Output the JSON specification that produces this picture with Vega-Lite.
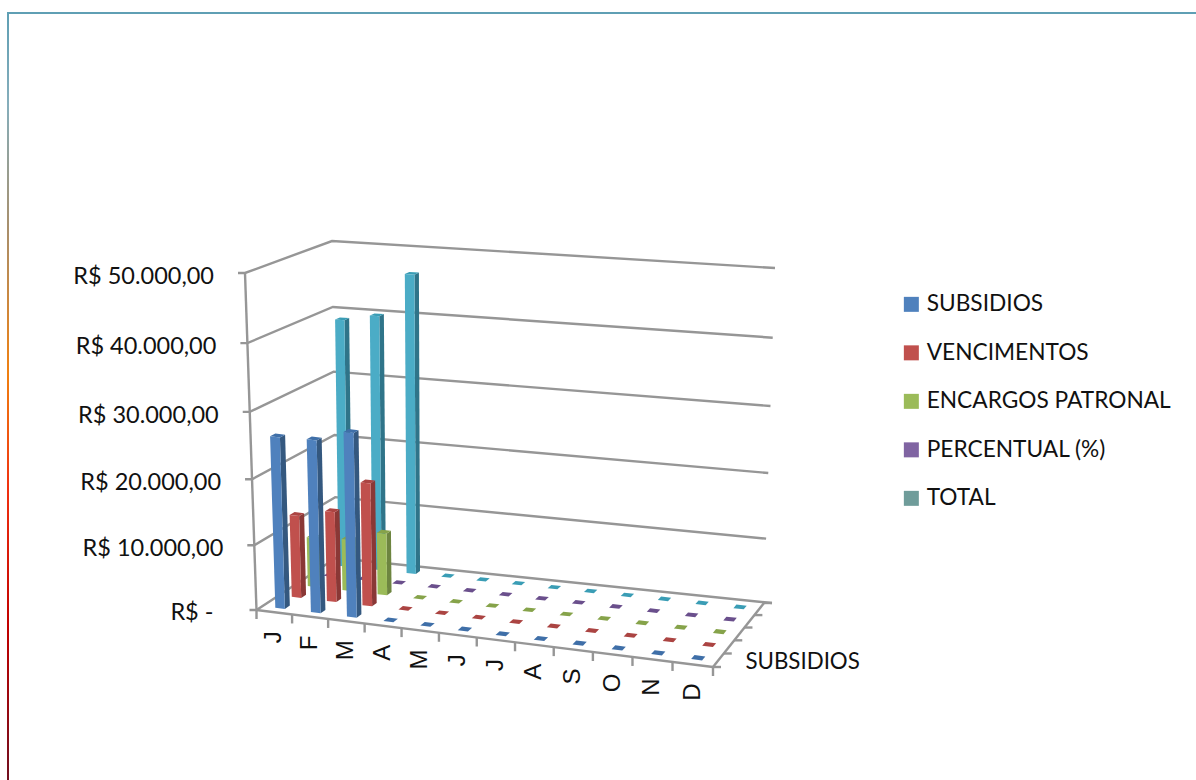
{"$schema":"https://vega.github.io/schema/vega-lite/v6.json","width":1190,"height":769,"padding":{"left":8,"top":13,"right":0,"bottom":0},"autosize":{"type":"none"},"background":"white","view":{"stroke":{"gradient":"linear","x1":0,"y1":0,"x2":0,"y2":1,"stops":[{"offset":0,"color":"#5f9fb4"},{"offset":0.12,"color":"#86aebb"},{"offset":0.28,"color":"#a88f6c"},{"offset":0.47,"color":"#f08010"},{"offset":0.62,"color":"#f03010"},{"offset":0.8,"color":"#c00000"},{"offset":1,"color":"#701020"}]},"strokeWidth":2,"fill":null},"data":{"values":[
{"kind":"grid","value":0,"label":"R$ -"},{"kind":"grid","value":10000,"label":"R$ 10.000,00"},{"kind":"grid","value":20000,"label":"R$ 20.000,00"},{"kind":"grid","value":30000,"label":"R$ 30.000,00"},{"kind":"grid","value":40000,"label":"R$ 40.000,00"},{"kind":"grid","value":50000,"label":"R$ 50.000,00"},
{"kind":"axis","name":"front"},{"kind":"axis","name":"right"},{"kind":"axis","name":"wall"},
{"kind":"mtick","i":0},{"kind":"mtick","i":1},{"kind":"mtick","i":2},{"kind":"mtick","i":3},{"kind":"mtick","i":4},{"kind":"mtick","i":5},{"kind":"mtick","i":6},{"kind":"mtick","i":7},{"kind":"mtick","i":8},{"kind":"mtick","i":9},{"kind":"mtick","i":10},{"kind":"mtick","i":11},{"kind":"mtick","i":12},
{"kind":"dtick","i":0},{"kind":"dtick","i":1},{"kind":"dtick","i":2},{"kind":"dtick","i":3},{"kind":"dtick","i":4},{"kind":"dtick","i":5},
{"kind":"mlabel","i":0,"label":"J"},{"kind":"mlabel","i":1,"label":"F"},{"kind":"mlabel","i":2,"label":"M"},{"kind":"mlabel","i":3,"label":"A"},{"kind":"mlabel","i":4,"label":"M"},{"kind":"mlabel","i":5,"label":"J"},{"kind":"mlabel","i":6,"label":"J"},{"kind":"mlabel","i":7,"label":"A"},{"kind":"mlabel","i":8,"label":"S"},{"kind":"mlabel","i":9,"label":"O"},{"kind":"mlabel","i":10,"label":"N"},{"kind":"mlabel","i":11,"label":"D"},
{"kind":"dlabel","label":"SUBSIDIOS"},
{"kind":"bar","series":"TOTAL","si":4,"mi":0,"value":38900},{"kind":"bar","series":"TOTAL","si":4,"mi":1,"value":39900},{"kind":"bar","series":"TOTAL","si":4,"mi":2,"value":46500},{"kind":"bar","series":"TOTAL","si":4,"mi":3,"value":0},{"kind":"bar","series":"TOTAL","si":4,"mi":4,"value":0},{"kind":"bar","series":"TOTAL","si":4,"mi":5,"value":0},{"kind":"bar","series":"TOTAL","si":4,"mi":6,"value":0},{"kind":"bar","series":"TOTAL","si":4,"mi":7,"value":0},{"kind":"bar","series":"TOTAL","si":4,"mi":8,"value":0},{"kind":"bar","series":"TOTAL","si":4,"mi":9,"value":0},{"kind":"bar","series":"TOTAL","si":4,"mi":10,"value":0},{"kind":"bar","series":"TOTAL","si":4,"mi":11,"value":0},
{"kind":"bar","series":"PERCENTUAL (%)","si":3,"mi":0,"value":0},{"kind":"bar","series":"PERCENTUAL (%)","si":3,"mi":1,"value":0},{"kind":"bar","series":"PERCENTUAL (%)","si":3,"mi":2,"value":0},{"kind":"bar","series":"PERCENTUAL (%)","si":3,"mi":3,"value":0},{"kind":"bar","series":"PERCENTUAL (%)","si":3,"mi":4,"value":0},{"kind":"bar","series":"PERCENTUAL (%)","si":3,"mi":5,"value":0},{"kind":"bar","series":"PERCENTUAL (%)","si":3,"mi":6,"value":0},{"kind":"bar","series":"PERCENTUAL (%)","si":3,"mi":7,"value":0},{"kind":"bar","series":"PERCENTUAL (%)","si":3,"mi":8,"value":0},{"kind":"bar","series":"PERCENTUAL (%)","si":3,"mi":9,"value":0},{"kind":"bar","series":"PERCENTUAL (%)","si":3,"mi":10,"value":0},{"kind":"bar","series":"PERCENTUAL (%)","si":3,"mi":11,"value":0},
{"kind":"bar","series":"ENCARGOS PATRONAL","si":2,"mi":0,"value":7800},{"kind":"bar","series":"ENCARGOS PATRONAL","si":2,"mi":1,"value":8100},{"kind":"bar","series":"ENCARGOS PATRONAL","si":2,"mi":2,"value":9700},{"kind":"bar","series":"ENCARGOS PATRONAL","si":2,"mi":3,"value":0},{"kind":"bar","series":"ENCARGOS PATRONAL","si":2,"mi":4,"value":0},{"kind":"bar","series":"ENCARGOS PATRONAL","si":2,"mi":5,"value":0},{"kind":"bar","series":"ENCARGOS PATRONAL","si":2,"mi":6,"value":0},{"kind":"bar","series":"ENCARGOS PATRONAL","si":2,"mi":7,"value":0},{"kind":"bar","series":"ENCARGOS PATRONAL","si":2,"mi":8,"value":0},{"kind":"bar","series":"ENCARGOS PATRONAL","si":2,"mi":9,"value":0},{"kind":"bar","series":"ENCARGOS PATRONAL","si":2,"mi":10,"value":0},{"kind":"bar","series":"ENCARGOS PATRONAL","si":2,"mi":11,"value":0},
{"kind":"bar","series":"VENCIMENTOS","si":1,"mi":0,"value":12800},{"kind":"bar","series":"VENCIMENTOS","si":1,"mi":1,"value":14000},{"kind":"bar","series":"VENCIMENTOS","si":1,"mi":2,"value":19000},{"kind":"bar","series":"VENCIMENTOS","si":1,"mi":3,"value":0},{"kind":"bar","series":"VENCIMENTOS","si":1,"mi":4,"value":0},{"kind":"bar","series":"VENCIMENTOS","si":1,"mi":5,"value":0},{"kind":"bar","series":"VENCIMENTOS","si":1,"mi":6,"value":0},{"kind":"bar","series":"VENCIMENTOS","si":1,"mi":7,"value":0},{"kind":"bar","series":"VENCIMENTOS","si":1,"mi":8,"value":0},{"kind":"bar","series":"VENCIMENTOS","si":1,"mi":9,"value":0},{"kind":"bar","series":"VENCIMENTOS","si":1,"mi":10,"value":0},{"kind":"bar","series":"VENCIMENTOS","si":1,"mi":11,"value":0},
{"kind":"bar","series":"SUBSIDIOS","si":0,"mi":0,"value":26150},{"kind":"bar","series":"SUBSIDIOS","si":0,"mi":1,"value":26300},{"kind":"bar","series":"SUBSIDIOS","si":0,"mi":2,"value":28000},{"kind":"bar","series":"SUBSIDIOS","si":0,"mi":3,"value":0},{"kind":"bar","series":"SUBSIDIOS","si":0,"mi":4,"value":0},{"kind":"bar","series":"SUBSIDIOS","si":0,"mi":5,"value":0},{"kind":"bar","series":"SUBSIDIOS","si":0,"mi":6,"value":0},{"kind":"bar","series":"SUBSIDIOS","si":0,"mi":7,"value":0},{"kind":"bar","series":"SUBSIDIOS","si":0,"mi":8,"value":0},{"kind":"bar","series":"SUBSIDIOS","si":0,"mi":9,"value":0},{"kind":"bar","series":"SUBSIDIOS","si":0,"mi":10,"value":0},{"kind":"bar","series":"SUBSIDIOS","si":0,"mi":11,"value":0}
]},
"transform":[
{"calculate":"datum.kind=='bar'?[{f:'side',o:0,u:(datum.mi+0.635)/12,v:(datum.si+0.35)/5,t:0},{f:'side',o:1,u:(datum.mi+0.635)/12,v:(datum.si+0.65)/5,t:0},{f:'side',o:2,u:(datum.mi+0.635)/12,v:(datum.si+0.65)/5,t:1},{f:'side',o:3,u:(datum.mi+0.635)/12,v:(datum.si+0.35)/5,t:1},{f:'top',o:0,u:(datum.mi+0.365)/12,v:(datum.si+0.35)/5,t:1},{f:'top',o:1,u:(datum.mi+0.635)/12,v:(datum.si+0.35)/5,t:1},{f:'top',o:2,u:(datum.mi+0.635)/12,v:(datum.si+0.65)/5,t:1},{f:'top',o:3,u:(datum.mi+0.365)/12,v:(datum.si+0.65)/5,t:1},{f:'front',o:0,u:(datum.mi+0.365)/12,v:(datum.si+0.35)/5,t:0},{f:'front',o:1,u:(datum.mi+0.635)/12,v:(datum.si+0.35)/5,t:0},{f:'front',o:2,u:(datum.mi+0.635)/12,v:(datum.si+0.35)/5,t:1},{f:'front',o:3,u:(datum.mi+0.365)/12,v:(datum.si+0.35)/5,t:1}]:datum.kind=='grid'?[{f:'g',o:0,u:0,v:0,t:1,dx:-7},{f:'g',o:1,u:0,v:0,t:1},{f:'g',o:2,u:0,v:1,t:1},{f:'g',o:3,u:1,v:1,t:1,dx:datum.value==0?8:0}]:datum.kind=='axis'?(datum.name=='front'?[{f:'a',o:0,u:0,v:0,t:0},{f:'a',o:1,u:1,v:0,t:0}]:datum.name=='right'?[{f:'a',o:0,u:1,v:0,t:0},{f:'a',o:1,u:1,v:1,t:0}]:[{f:'a',o:0,u:0,v:0,t:0},{f:'a',o:1,u:0,v:0,t:1}]):datum.kind=='mtick'?[{f:'m',o:0,u:datum.i/12,v:0,t:0},{f:'m',o:1,u:datum.i/12,v:0,t:0,dy:9}]:datum.kind=='dtick'?[{f:'d',o:0,u:1,v:datum.i/5,t:0},{f:'d',o:1,u:1,v:datum.i/5,t:0,dx:8}]:datum.kind=='mlabel'?[{f:'l',o:0,u:(datum.i+0.5)/12,v:0,t:0}]:[{f:'l',o:0,u:1,v:0.1,t:0}]","as":"vx"},
{"flatten":["vx"]},
{"calculate":"datum.vx.u-0.07*datum.vx.u*(1-datum.vx.u)","as":"fu"},
{"calculate":"datum.vx.v+0.07*datum.vx.v*(1-datum.vx.v)","as":"fv"},
{"calculate":"datum.vx.t*(datum.kind=='bar'||datum.kind=='grid'?datum.value/50000:1)","as":"h0"},
{"calculate":"datum.h0-0.05*datum.h0*(1-datum.h0)","as":"hw"},
{"calculate":"(1-datum.fv)*(256.5+datum.fu*456.5)+datum.fv*(336+datum.fu*428)","as":"fx"},
{"calculate":"(1-datum.fv)*(610+datum.fu*57)+datum.fv*(558+datum.fu*45)","as":"fy"},
{"calculate":"(1-datum.fv)*(245+datum.fu*483)+datum.fv*(332+datum.fu*443)","as":"tx"},
{"calculate":"(1-datum.fv)*(273+datum.fu*49)+datum.fv*(241+datum.fu*27)","as":"ty"},
{"calculate":"datum.fx+(datum.tx-datum.fx)*datum.hw+(datum.vx.dx||0)","as":"px"},
{"calculate":"datum.fy+(datum.ty-datum.fy)*datum.hw+(datum.vx.dy||0)","as":"py"},
{"calculate":"datum.kind+'|'+(datum.series||'')+'|'+(datum.mi==null?'':datum.mi)+'|'+(datum.value==null?'':datum.value)+'|'+(datum.name||'')+'|'+(datum.i==null?'':datum.i)+'|'+datum.vx.f","as":"pid"},
{"calculate":"datum.series+'|'+datum.vx.f","as":"shade"},
{"calculate":"datum.vx.o","as":"vo"}
],
"encoding":{
"x":{"field":"px","type":"quantitative","scale":{"domain":[8,1198],"nice":false,"zero":false},"axis":null},
"y":{"field":"py","type":"quantitative","scale":{"domain":[782,13],"nice":false,"zero":false},"axis":null}
},
"layer":[
{"transform":[{"filter":"datum.kind=='grid'||datum.kind=='axis'||datum.kind=='mtick'||datum.kind=='dtick'"}],"mark":{"type":"line","stroke":"#969696","strokeWidth":2.4,"clip":false},"encoding":{"detail":{"field":"pid"},"order":{"field":"vo","type":"quantitative"}}},
{"transform":[{"filter":"datum.kind=='bar'"}],"mark":{"type":"line","strokeWidth":0},"encoding":{"detail":{"field":"pid"},"order":{"field":"vo","type":"quantitative"},"fill":{"field":"shade","type":"nominal","legend":null,"scale":{"domain":["SUBSIDIOS|front","SUBSIDIOS|side","SUBSIDIOS|top","VENCIMENTOS|front","VENCIMENTOS|side","VENCIMENTOS|top","ENCARGOS PATRONAL|front","ENCARGOS PATRONAL|side","ENCARGOS PATRONAL|top","PERCENTUAL (%)|front","PERCENTUAL (%)|side","PERCENTUAL (%)|top","TOTAL|front","TOTAL|side","TOTAL|top"],"range":["#4f81bd","#34587f","#3f6fa8","#c0504d","#8a3836","#ab4442","#9bbb59","#6d8540","#86a34a","#8064a2","#5a4773","#6a4f8c","#4bacc6","#2f7489","#3a9db5"]}}}},
{"transform":[{"filter":"datum.kind=='bar'"}],"mark":{"type":"square","opacity":0},"encoding":{"color":{"field":"series","type":"nominal","scale":{"domain":["SUBSIDIOS","VENCIMENTOS","ENCARGOS PATRONAL","PERCENTUAL (%)","TOTAL"],"range":["#4f81bd","#c0504d","#9bbb59","#8064a2","#6f9c9a"]},"legend":{"title":null,"orient":"none","legendX":892,"legendY":280,"symbolType":"square","symbolSize":225,"symbolOpacity":1,"symbolStrokeWidth":0,"labelFont":"Lato","labelFontSize":22.7,"labelColor":"#111111","labelOffset":4,"rowPadding":24.5,"labelLimit":400}}}},
{"transform":[{"filter":"datum.kind=='grid'&&datum.vx.o==0&&datum.value>0"}],"mark":{"type":"text","font":"Lato","fontSize":23.5,"color":"#111111","align":"right","baseline":"middle","xOffset":-24,"yOffset":4},"encoding":{"text":{"field":"label"}}},
{"transform":[{"filter":"datum.kind=='grid'&&datum.vx.o==0&&datum.value==0"}],"mark":{"type":"text","font":"Lato","fontSize":23.5,"color":"#111111","align":"right","baseline":"middle","xOffset":-36,"yOffset":3},"encoding":{"text":{"field":"label"}}},
{"transform":[{"filter":"datum.kind=='mlabel'"}],"mark":{"type":"text","font":"Liberation Sans","fontSize":24,"color":"#111111","align":"right","baseline":"middle","angle":270,"yOffset":19},"encoding":{"text":{"field":"label"}}},
{"transform":[{"filter":"datum.kind=='dlabel'"}],"mark":{"type":"text","font":"Lato","fontSize":22.3,"color":"#111111","align":"left","baseline":"middle","xOffset":27,"yOffset":2},"encoding":{"text":{"field":"label"}}}
]}
